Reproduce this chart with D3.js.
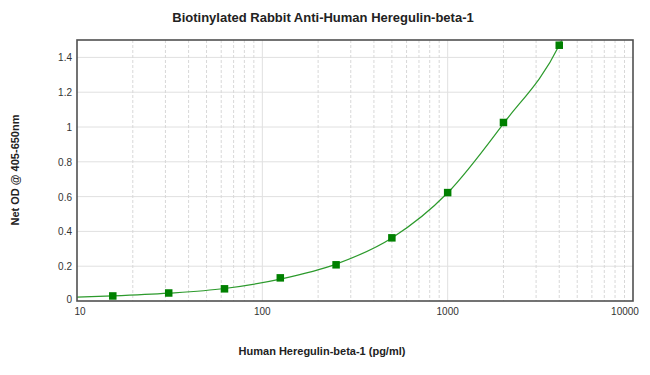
<!DOCTYPE html>
<html>
<head>
<meta charset="utf-8">
<script src="https://cdn.jsdelivr.net/npm/d3@7"></script>
<style>
  body { margin: 0; background: #fff; }
  text { font-family: "Liberation Sans", Arial, sans-serif; }
</style>
</head>
<body>
<div id="chart"></div>
<script>
// standards (pg/ml) and net OD
const conc = [15.6, 31.25, 62.5, 125, 250, 500, 1000, 2000, 4000];
const od = [0.029, 0.046, 0.07, 0.133, 0.208, 0.363, 0.623, 1.026, 1.47];

// fitted curve
const fitX = [10, 15.6, 31.25, 62.5, 125, 250, 500, 1000, 2000, 4000, 4300];
const fitY = [0.022, 0.029, 0.045, 0.072, 0.126, 0.212, 0.362, 0.622, 1.02, 1.47, 1.54];

const yTicks = [0, 0.2, 0.4, 0.6, 0.8, 1, 1.2, 1.4];
const xTicks = [10, 100, 1000, 10000];

const W = 650, H = 375;
const margin = {top: 40, right: 17, bottom: 74, left: 77};
const width = W - margin.left - margin.right;
const height = H - margin.top - margin.bottom;

const svg = d3.select("#chart").append("svg")
    .attr("width", W)
    .attr("height", H);

const g = svg.append("g")
    .attr("transform", "translate(" + margin.left + "," + margin.top + ")");

const x = d3.scaleLog().domain([10, 10000]).range([0, width]);
const y = d3.scaleLinear().domain([0, 1.5]).range([height, 0]);

// horizontal grid
g.selectAll(".hgrid")
    .data(yTicks.filter(d => d > 0))
    .enter().append("line")
    .attr("x1", 0).attr("x2", width)
    .attr("y1", d => y(d)).attr("y2", d => y(d))
    .style("stroke", "#e0e0e0").style("stroke-width", 1);

// vertical grid, minor dashed
let minor = [];
[10, 100, 1000].forEach(p => {
  for (let k = 2; k <= 9; k++) minor.push(k * p);
});
g.selectAll(".vminor")
    .data(minor)
    .enter().append("line")
    .attr("x1", d => x(d)).attr("x2", d => x(d))
    .attr("y1", 0).attr("y2", height)
    .style("stroke", "#d8d8d8").style("stroke-width", 1)
    .style("stroke-dasharray", "3,2");

g.selectAll(".vmajor")
    .data([100, 1000])
    .enter().append("line")
    .attr("x1", d => x(d)).attr("x2", d => x(d))
    .attr("y1", 0).attr("y2", height)
    .style("stroke", "#e0e0e0").style("stroke-width", 1);

// clip the curve to the plot
svg.append("defs").append("clipPath").attr("id", "clip")
  .append("rect").attr("width", width).attr("height", height);

const fit = fitX.map((d, i) => [d, fitY[i]]);
const line = d3.line()
    .x(d => x(d[0]))
    .y(d => y(d[1]))
    .curve(d3.curveMonotoneX);

g.append("path")
    .datum(fit)
    .attr("clip-path", "url(#clip)")
    .attr("d", line)
    .style("fill", "none")
    .style("stroke", "#2c9a2c")
    .style("stroke-width", 1.2);

// markers
const s = 7.5;
g.selectAll(".pt")
    .data(conc)
    .enter().append("rect")
    .attr("x", d => x(d) - s / 2)
    .attr("y", (d, i) => y(od[i]) - s / 2)
    .attr("width", s).attr("height", s)
    .style("fill", "#008000");

// frame
g.append("rect")
    .attr("width", width).attr("height", height)
    .style("fill", "none")
    .style("stroke", "#505050")
    .style("stroke-width", 1.6);

// y tick labels
g.selectAll(".ylab")
    .data(yTicks)
    .enter().append("text")
    .attr("x", -5)
    .attr("y", d => y(d) + (d === 0 ? 2 : 4))
    .attr("text-anchor", "end")
    .style("font-size", "10px")
    .style("fill", "#333")
    .text(d => d);

// x tick labels
g.selectAll(".xlab")
    .data(xTicks)
    .enter().append("text")
    .attr("x", d => d === 10000 ? x(d) - 8 : x(d) + (d === 10 ? 3 : 0))
    .attr("y", height + 14)
    .attr("text-anchor", "middle")
    .style("font-size", "10px")
    .style("fill", "#333")
    .text(d => d);

// titles
svg.append("text")
    .attr("x", 323).attr("y", 22)
    .attr("text-anchor", "middle")
    .style("font-size", "13px").style("font-weight", "bold")
    .style("fill", "#222")
    .text("Biotinylated Rabbit Anti-Human Heregulin-beta-1");

svg.append("text")
    .attr("x", 322).attr("y", 355)
    .attr("text-anchor", "middle")
    .style("font-size", "11px").style("font-weight", "bold")
    .style("fill", "#222")
    .text("Human Heregulin-beta-1 (pg/ml)");

svg.append("text")
    .attr("transform", "translate(19,170) rotate(-90)")
    .attr("text-anchor", "middle")
    .style("font-size", "11px").style("font-weight", "bold")
    .style("fill", "#222")
    .text("Net OD @ 405-650nm");
</script>
</body>
</html>
